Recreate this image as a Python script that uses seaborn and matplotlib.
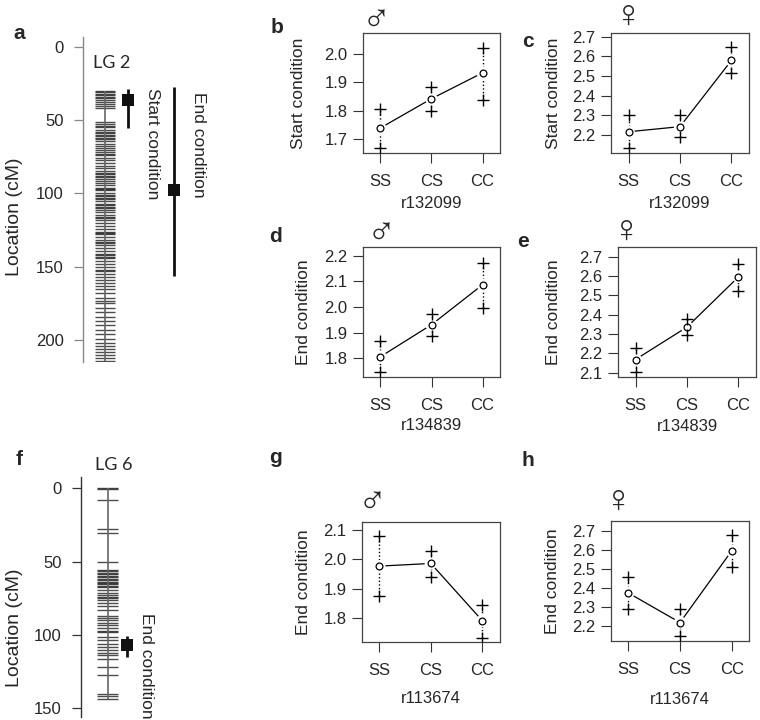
import matplotlib
matplotlib.use('Agg')

import numpy as np
import pandas as pd
import matplotlib.pyplot as plt
import seaborn as sns

# ---------------- data ----------------
GENOTYPES = ['SS', 'CS', 'CC']

# effect plots: mean (circle) and +/- SE (crosses), per genotype
B_MEAN = [1.738, 1.842, 1.934]
B_LOW = [1.668, 1.800, 1.839]
B_UP = [1.807, 1.884, 2.022]

C_MEAN = [2.217, 2.243, 2.580]
C_LOW = [2.132, 2.188, 2.514]
C_UP = [2.300, 2.300, 2.646]

D_MEAN = [1.806, 1.931, 2.087]
D_LOW = [1.745, 1.888, 1.998]
D_UP = [1.868, 1.974, 2.170]

E_MEAN = [2.168, 2.336, 2.596]
E_LOW = [2.102, 2.295, 2.524]
E_UP = [2.229, 2.378, 2.661]

G_MEAN = [1.977, 1.986, 1.791]
G_LOW = [1.877, 1.941, 1.734]
G_UP = [2.080, 2.029, 1.845]

H_MEAN = [2.375, 2.220, 2.595]
H_LOW = [2.293, 2.149, 2.512]
H_UP = [2.460, 2.293, 2.677]

# linkage maps (marker positions, cM)
LG2_MARKERS = [30, 31, 32, 33, 34, 35, 36, 37.5, 39, 40.5, 41.5,
               51, 52.5, 54, 55, 56.5, 58, 59, 60, 61, 62, 63, 64.5, 66,
               67.5, 69, 70.5, 72, 73, 74, 76, 77.5, 79, 81, 83, 85, 86,
               87, 88, 89, 90, 91.5, 93, 94.5, 96, 97, 98, 99.5, 101, 102,
               103, 104, 105.5, 107, 108, 109, 110, 111, 113, 115, 116,
               117, 118, 120, 122, 124, 126, 127, 128, 130, 132, 133, 134,
               135, 137, 139, 141, 142, 143, 144, 146, 148, 150, 152, 153,
               155, 157, 159, 161, 163, 165, 168, 171, 173, 175, 178, 181,
               184, 187, 190, 193, 196, 199, 202, 204, 206, 208, 210, 212, 214]
LG6_MARKERS = [0, 0.7, 8, 28, 30.7, 50, 55.5, 56.5, 57.5, 58.5, 59.5, 60.5,
               61.5, 62.5, 63.5, 64.5, 65.5, 66.5, 67.5, 69, 71, 73, 74, 75,
               76, 78, 80.5, 83, 87, 88.5, 90, 91.5, 93, 95, 97, 98, 101,
               103.5, 106, 108, 110, 112.5, 113.5, 116, 121.5, 127, 140,
               141.5, 143.5]

LG2_QTL = ['Start condition', 'End condition']
LG2_PEAK = [36.4, 97.7]
LG2_LOW = [29.0, 27.5]
LG2_HIGH = [55.5, 156.0]

LG6_QTL = ['End condition']
LG6_PEAK = [106.8]
LG6_LOW = [100.7]
LG6_HIGH = [115.0]

# ---------------- style ----------------
sns.set_style("white")
plt.rcParams['font.family'] = ['Liberation Sans', 'DejaVu Sans']

W, H = 760, 720
fig = plt.figure(figsize=(W / 100, H / 100), dpi=100)


def px_axes(left, top, right, bottom):
    return fig.add_axes([left / W, 1 - bottom / H, (right - left) / W, (bottom - top) / H])


def fig_text(x, y, s, **kw):
    fig.text(x / W, 1 - y / H, s, **kw)


def effect_panel(rect, mean, low, up, ylim, yticks, ylabel, marker_name, ylabel_x, xpad):
    ax = px_axes(*rect)
    pos = np.arange(1, len(GENOTYPES) + 1)
    df = pd.DataFrame({'pos': pos, 'mean': mean, 'low': low, 'up': up})
    ends = pd.DataFrame({'pos': np.concatenate([pos, pos]), 'value': low + up})

    ax.vlines(df['pos'], df['low'], df['up'], colors='black',
              linestyles=(0, (1, 1.6)), linewidth=1, zorder=1)
    sns.lineplot(data=df, x='pos', y='mean', color='black', linewidth=0.9, ax=ax, zorder=2)
    # white halo -> gap between line and open circle
    sns.scatterplot(data=df, x='pos', y='mean', s=80, color='white', edgecolor='none',
                    ax=ax, zorder=3)
    sns.scatterplot(data=df, x='pos', y='mean', s=24, color='white', edgecolor='black',
                    linewidth=0.9, ax=ax, zorder=4)
    sns.scatterplot(data=ends, x='pos', y='value', marker='+', s=70, color='black',
                    linewidth=1, ax=ax, zorder=4)

    ax.set_xlim(0.66, 3.34)
    ax.set_ylim(*ylim)
    ax.set_xticks(pos, GENOTYPES)
    ax.set_yticks(yticks)
    ax.yaxis.set_major_formatter('{x:.1f}')
    ax.set_xlabel(marker_name, fontsize=12, labelpad=xpad)
    ax.set_ylabel(ylabel, fontsize=12.5)
    ax.yaxis.set_label_coords(ylabel_x, 0.5)
    ax.tick_params(bottom=True, left=True, direction='out', length=7, width=0.8,
                   color='#333', labelsize=12)
    ax.tick_params(axis='x', pad=8)
    ax.tick_params(axis='y', pad=4)
    for s in ax.spines.values():
        s.set_color('#444')
        s.set_linewidth(0.9)
    return ax


def map_panel(rect, markers, ylim, yticks, lg_label, lg_y, qtl_names, peaks, lows, highs,
              bar_x, qtl_x, text_x, text_top, spine_color, label_xy):
    ax = px_axes(*rect)
    ax.set_xlim(0, 120)
    ax.set_ylim(*ylim)
    ax.hlines(markers, bar_x[0], bar_x[1], colors='black', alpha=0.7, linewidth=1)
    ax.vlines((bar_x[0] + bar_x[1]) / 2, min(markers), max(markers), colors='#666', linewidth=1.2)
    for name, pk, lo, hi, qx, tx, tt in zip(qtl_names, peaks, lows, highs, qtl_x, text_x, text_top):
        ax.vlines(qx, lo, hi, colors='#111', linewidth=2)
        ax.text(tx, tt, name, rotation=-90, ha='center', va='top', fontsize=12.5)
    sns.scatterplot(x=qtl_x, y=peaks, marker='s', s=75, color='#111', edgecolor='none',
                    ax=ax, zorder=3)
    ax.text(bar_x[0] - 2, lg_y, lg_label, fontsize=13, family=['Lato', 'DejaVu Sans'],
            va='center', ha='left', clip_on=False)

    for side in ['top', 'right', 'bottom']:
        ax.spines[side].set_visible(False)
    ax.spines['left'].set_color(spine_color)
    ax.spines['left'].set_linewidth(1)
    ax.set_xticks([])
    ax.set_yticks(yticks)
    ax.tick_params(left=True, direction='out', length=6.5, width=0.9, color=spine_color,
                   labelsize=12, pad=7.5)
    ax.set_ylabel('Location (cM)', fontsize=14)
    ax.yaxis.set_label_coords(*label_xy)
    return ax


# ---------------- panels a / f ----------------
map_panel((83.3, 37, 203.3, 362), LG2_MARKERS, (214.9, -6.6), [0, 50, 100, 150, 200],
          'LG 2', 11.1, LG2_QTL, LG2_PEAK, LG2_LOW, LG2_HIGH,
          bar_x=(12, 32), qtl_x=[44.4, 91], text_x=[68.7, 114.7], text_top=[28.2, 30.9],
          spine_color='#888', label_xy=(-0.50, 0.446))

map_panel((81, 477, 201, 717), LG6_MARKERS, (155.8, -7.7), [0, 50, 100, 150],
          'LG 6', -15.9, LG6_QTL, LG6_PEAK, LG6_LOW, LG6_HIGH,
          bar_x=(16, 37), qtl_x=[46.3], text_x=[66], text_top=[85],
          spine_color='#333', label_xy=(-0.483, 0.371))

# ---------------- effect panels ----------------
effect_panel((362.7, 33, 500, 153), B_MEAN, B_LOW, B_UP, (1.65, 2.075),
             [1.7, 1.8, 1.9, 2.0], 'Start condition', 'r132099', -0.413, 5)
effect_panel((611, 33, 749, 153), C_MEAN, C_LOW, C_UP, (2.109, 2.719),
             [2.2, 2.3, 2.4, 2.5, 2.6, 2.7], 'Start condition', 'r132099', -0.362, 5)
effect_panel((363, 247.3, 500, 376.7), D_MEAN, D_LOW, D_UP, (1.728, 2.233),
             [1.8, 1.9, 2.0, 2.1, 2.2], 'End condition', 'r134839', -0.38, 4)
effect_panel((618, 246.7, 756, 376.7), E_MEAN, E_LOW, E_UP, (2.079, 2.752),
             [2.1, 2.2, 2.3, 2.4, 2.5, 2.6, 2.7], 'End condition', 'r134839', -0.413, 5)
effect_panel((361.7, 521.7, 500, 641.7), G_MEAN, G_LOW, G_UP, (1.72, 2.128),
             [1.8, 1.9, 2.0, 2.1], 'End condition', 'r113674', -0.367, 10)
effect_panel((610.7, 521, 749.3, 640.7), H_MEAN, H_LOW, H_UP, (2.125, 2.751),
             [2.2, 2.3, 2.4, 2.5, 2.6, 2.7], 'End condition', 'r113674', -0.366, 11)

# sex symbols
for x, y, s in [(376, 21, '\u2642'), (629, 17, '\u2640'), (381, 234, '\u2642'),
                (627, 232, '\u2640'), (372, 503, '\u2642'), (619, 502, '\u2640')]:
    fig_text(x, y, s, fontsize=28, ha='center', va='center')

# panel letters
for x, y, s in [(19, 39, 'a'), (277, 33, 'b'), (528, 47, 'c'), (275, 242, 'd'),
                (523, 247, 'e'), (19, 465, 'f'), (275, 463, 'g'), (528, 466, 'h')]:
    fig_text(x, y, s, fontsize=15, fontweight='bold', ha='center', va='baseline')

fig.savefig('out.png', dpi=100)
plt.close(fig)
